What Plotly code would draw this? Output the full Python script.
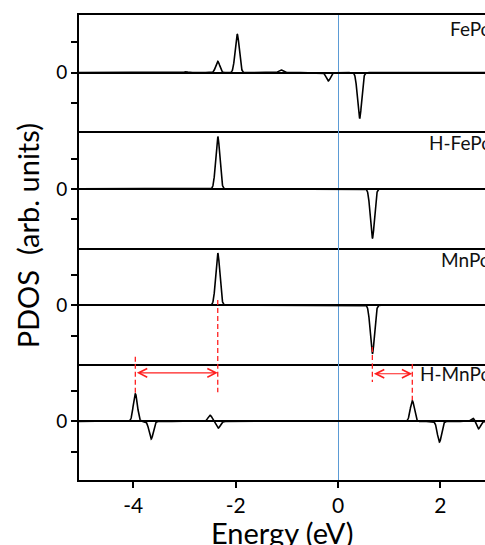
import numpy as np
import plotly.graph_objects as go
from plotly.subplots import make_subplots

# Energy grid (eV) for the broadened PDOS curves
energy = np.linspace(-5.1, 3.0, 2400)
sigma = 0.04  # Gaussian broadening (eV)

# Panel names (top to bottom)
systems = ["FePc", "H-FePc", "MnPc", "H-MnPc"]

# Peak centres (eV) and signed weights (positive: spin up, negative: spin down)
fepc_pos = [-2.97, -2.35, -1.97, -1.12, -0.19, 0.42]
fepc_amp = [0.03, 0.37, 1.27, 0.09, -0.27, -1.51]

hfepc_pos = [-3.17, -2.64, -2.35, 0.67]
hfepc_amp = [0.02, 0.02, 1.73, -1.63]

mnpc_pos = [-3.17, -2.35, 0.67]
mnpc_amp = [0.02, 1.72, -1.60]

hmnpc_pos = [-4.88, -3.96, -3.65, -3.09, -2.50, -2.34, 1.45, 1.98, 2.64, 2.74]
hmnpc_amp = [0.02, 0.91, -0.58, 0.02, 0.20, -0.22, 0.68, -0.68, 0.11, -0.25]

peak_sets = [
    (fepc_pos, fepc_amp),
    (hfepc_pos, hfepc_amp),
    (mnpc_pos, mnpc_amp),
    (hmnpc_pos, hmnpc_amp),
]

# Peak-to-peak splittings marked in the H-MnPc panel
occ_from, occ_to = -3.96, -2.35
unocc_from, unocc_to = 0.67, 1.45

x_ticks = [-4, -2, 0, 2]
x_tick_text = ["-4", "-2", "0", "2"]

FONT = "Lato"
RED = "#ff1f1f"
YR = [-1.93, 1.9]

fig = make_subplots(rows=4, cols=1, shared_xaxes=True, vertical_spacing=0)


def broadened(pos, amp):
    y = np.zeros_like(energy)
    for p, a in zip(pos, amp):
        y += a * np.exp(-0.5 * ((energy - p) / sigma) ** 2)
    return y


for i, (pos, amp) in enumerate(peak_sets, start=1):
    fig.add_trace(
        go.Scatter(x=energy, y=broadened(pos, amp), mode="lines",
                   line=dict(color="black", width=1.6), showlegend=False,
                   hoverinfo="skip"),
        row=i, col=1,
    )


def red_dash(x, y0, y1, row):
    fig.add_trace(
        go.Scatter(x=[x, x], y=[y0, y1], mode="lines",
                   line=dict(color=RED, width=1.3, dash="5px,3px"),
                   showlegend=False, hoverinfo="skip", cliponaxis=False),
        row=row, col=1,
    )


# Guide lines dropped from the MnPc peaks into the H-MnPc panel
red_dash(occ_to, 0.17, YR[0], 3)
red_dash(occ_to, YR[1], 0.96, 4)
red_dash(occ_from, -1.7, YR[0], 3)
red_dash(occ_from, YR[1], 0.93, 4)
red_dash(unocc_from, -1.38, YR[0], 3)
red_dash(unocc_from, YR[1], 1.3, 4)
red_dash(unocc_to, YR[1], 0.7, 4)

# Double-headed arrows for the splittings
for a, b, yy in [(occ_from, occ_to, 1.6), (unocc_from, unocc_to, 1.57)]:
    fig.add_annotation(
        x=b, y=yy, ax=a, ay=yy, xref="x4", yref="y4", axref="x4", ayref="y4",
        text="", showarrow=True, arrowhead=5, startarrowhead=5,
        arrowside="end+start", arrowsize=1.4, arrowwidth=1.2, arrowcolor=RED,
        standoff=0, startstandoff=0,
    )

# Panel labels
label_pos = [(2.15, 1.47), (1.74, 1.52), (1.98, 1.49), (1.57, 1.57)]
for i, (name, (lx, ly)) in enumerate(zip(systems, label_pos), start=1):
    fig.add_annotation(
        x=lx, y=ly, xref=f"x{i}" if i > 1 else "x", yref=f"y{i}" if i > 1 else "y",
        text=name, showarrow=False, xanchor="left", yanchor="middle",
        font=dict(family=FONT, size=19, color="#111"),
    )

for i in range(1, 5):
    fig.update_yaxes(
        row=i, col=1, range=YR, tickvals=[-1, 0, 1], ticktext=["", "0", ""],
        ticks="outside", ticklen=6, tickwidth=1.5, tickcolor="black",
        showline=True, linecolor="black", linewidth=2, mirror=False,
        showgrid=False, zeroline=True, zerolinecolor="black", zerolinewidth=1.6,
        tickfont=dict(family=FONT, size=19, color="black"),
        fixedrange=True,
    )
    # only the top panel draws a top frame line; every panel draws its bottom line
    fig.update_xaxes(
        row=i, col=1, range=[-5.06, 2.87], showgrid=False,
        showline=True, linecolor="black", linewidth=2, mirror=(i == 1),
        zeroline=True, zerolinecolor="#5b9bd5", zerolinewidth=1.2,
        tickvals=x_ticks, ticktext=x_tick_text,
        ticks="outside" if i == 4 else "", ticklen=6,
        tickwidth=1.5, tickcolor="black", showticklabels=(i == 4),
        tickfont=dict(family=FONT, size=21, color="black"),
    )

# Axis titles
fig.add_annotation(
    x=0.5, y=-0.071, xref="paper", yref="paper", xanchor="center", yanchor="top",
    text="Energy (eV)", showarrow=False,
    font=dict(family=FONT, size=29, color="black"),
)
fig.add_annotation(
    x=-0.128, y=0.524, xref="paper", yref="paper", xanchor="center", yanchor="middle",
    text="PDOS  (arb. units)", textangle=-90, showarrow=False,
    font=dict(family=FONT, size=29, color="black"),
)

fig.update_layout(
    width=485, height=545,
    margin=dict(l=79, r=0, t=15, b=65),
    paper_bgcolor="white", plot_bgcolor="white",
    showlegend=False,
)

fig.write_html("out.html")
